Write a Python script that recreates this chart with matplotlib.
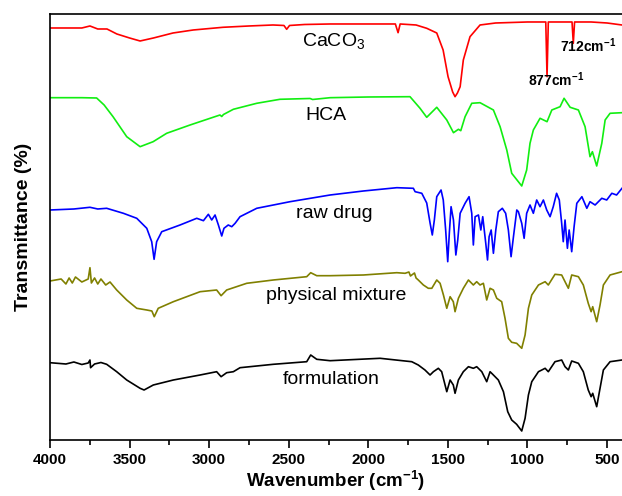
import numpy as np
import matplotlib
matplotlib.use('Agg')
import matplotlib.pyplot as plt
from matplotlib.ticker import MultipleLocator

plt.rcParams['font.family'] = ['Liberation Sans', 'DejaVu Sans']
plt.rcParams['mathtext.fontset'] = 'custom'
plt.rcParams['mathtext.rm'] = 'Liberation Sans'
plt.rcParams['mathtext.bf'] = 'Liberation Sans:bold'

# FTIR spectra (wavenumber in cm-1, transmittance in offset units)
caco3_wn = [4000, 3800, 3749, 3700, 3642, 3580, 3500, 3434, 3350, 3227, 3100, 2913, 2750, 2599,
            2530, 2513, 2495, 2400, 2240, 2000, 1830, 1813, 1800, 1700, 1633, 1570, 1530, 1499,
            1470, 1455, 1440, 1423, 1403, 1361, 1298, 1200, 1000, 900, 885, 877, 869, 750, 720,
            712, 704, 600, 500, 406]
caco3_t = [412, 412, 414, 411, 411, 406, 402, 399, 402, 407, 410, 412.7, 414, 415,
           414.5, 410.7, 414.5, 415.5, 416, 416, 416, 407.3, 416, 415, 411.7, 407, 390, 363.3,
           348, 343.3, 347, 353.3, 380, 403.3, 415, 417, 418, 418, 418, 363.3, 418, 418, 418,
           396.7, 418, 418, 417, 415]

hca_wn = [4000, 3800, 3707, 3660, 3604, 3518, 3434, 3352, 3267, 3120, 2932, 2921, 2910, 2848,
          2701, 2555, 2366, 2350, 2240, 2000, 1738, 1675, 1633, 1570, 1507, 1465, 1434, 1419,
          1392, 1350, 1298, 1214, 1172, 1130, 1099, 1036, 1005, 984, 963, 921, 877, 847, 795,
          770, 732, 680, 638, 607, 592, 565, 533, 512, 481, 406]
hca_t = [342.3, 342.3, 342, 335, 323.3, 303.3, 293.3, 298.3, 306.7, 315, 325, 323.5, 325.5, 330.7,
         336.7, 340.7, 341.5, 340.5, 342.3, 343, 343.3, 331.7, 322.7, 332.7, 320, 307.3, 310.7, 309.3,
         323.3, 336.7, 337.3, 330, 313.3, 290, 266.7, 254, 270, 296.7, 310, 321.7, 318.3, 330, 333.3,
         341.7, 332.7, 330, 313.3, 283.3, 288.3, 274, 296.7, 320, 326.7, 327.3]

drug_wn = [4000, 3850, 3749, 3700, 3644, 3539, 3455, 3392, 3361, 3346, 3330, 3298, 3183, 3078,
           3036, 3005, 2984, 2963, 2942, 2921, 2907, 2880, 2858, 2837, 2806, 2701, 2492, 2240,
           2031, 1821, 1717, 1706, 1664, 1633, 1612, 1598, 1585, 1570, 1543, 1529, 1514, 1501,
           1491, 1480, 1465, 1450, 1438, 1423, 1392, 1367, 1350, 1340, 1329, 1308, 1293, 1281,
           1262, 1251, 1241, 1228, 1214, 1199, 1183, 1158, 1137, 1120, 1103, 1088, 1067, 1057,
           1036, 1021, 1005, 984, 963, 942, 921, 900, 879, 858, 838, 817, 800, 785, 775, 764,
           749, 738, 722, 707, 690, 658, 627, 607, 575, 533, 502, 470, 440, 406]
drug_t = [230, 231, 232.7, 231, 231.7, 226.7, 221.7, 211.7, 198.3, 180.7, 198.3, 208.3, 215, 221.7,
          219.3, 225.7, 220, 225, 215, 204, 211.7, 215, 213.3, 216.7, 223.3, 231.7, 238.3, 245,
          249, 252.3, 251.7, 248.3, 246.7, 237, 217, 205, 220, 243.3, 250, 240, 210, 178.3,
          206.7, 233.3, 220, 185, 200, 226.7, 236.7, 243.3, 226.7, 195, 223.3, 225, 210, 223.3,
          196.7, 180, 203.3, 210, 186.7, 210, 228.3, 231.7, 226.7, 210, 183.3, 203.3, 230, 228.3,
          216.7, 201.7, 226.7, 235, 226.7, 240, 233.3, 240, 230, 223.3, 233.3, 246.7, 240, 216.7, 198.3, 220,
          191.7, 210, 188.3, 213.3, 236.7, 243.3, 231.7, 238.3, 235, 241.7, 240, 246.7, 245, 251.7]

mix_wn = [4000, 3930, 3900, 3880, 3860, 3840, 3800, 3760, 3749, 3740, 3720, 3700, 3680, 3650,
          3623, 3581, 3518, 3455, 3392, 3360, 3345, 3320, 3225, 3057, 2953, 2925, 2890, 2764,
          2597, 2387, 2362, 2324, 2240, 2031, 1821, 1769, 1745, 1735, 1727, 1710, 1700, 1686,
          1654, 1623, 1601, 1570, 1549, 1528, 1507, 1486, 1466, 1455, 1434, 1403, 1371, 1340,
          1319, 1298, 1277, 1256, 1235, 1214, 1193, 1162, 1141, 1120, 1099, 1068, 1036, 1015,
          994, 973, 931, 889, 869, 827, 785, 764, 743, 722, 680, 649, 618, 600, 590, 565, 544,
          523, 481, 406]
mix_t = [159, 161, 156, 162, 157, 163, 158, 161, 172.3, 157, 162, 156, 161, 155,
         158, 150, 140, 131.7, 130, 129, 123.3, 131.7, 138.3, 148.3, 150, 144.3, 150, 156.7,
         160, 163.3, 167.3, 164.3, 164.3, 165, 167.3, 166.7, 168, 164, 165, 167, 162, 160,
         155, 151.7, 151.7, 160, 156.7, 145, 131.7, 143.3, 138.3, 128.3, 141.7, 151.7, 160, 155,
         158.3, 155, 156.7, 140, 151.7, 150, 141.7, 138.3, 121.7, 101.7, 97.7, 96.7, 91.7, 105,
         131.7, 145, 155, 158.3, 155, 165.7, 165, 158.3, 151.7, 165, 163.3, 155, 136.7, 128.3, 133.3, 118.3, 135,
         155, 165, 168.3]

form_wn = [4000, 3900, 3850, 3800, 3760, 3749, 3745, 3720, 3680, 3644, 3581, 3518, 3434, 3409,
           3351, 3225, 3057, 2953, 2925, 2890, 2848, 2806, 2597, 2387, 2362, 2324, 2240, 1926,
           1769, 1727, 1686, 1644, 1612, 1591, 1560, 1539, 1507, 1486, 1466, 1455, 1434, 1403,
           1371, 1340, 1319, 1287, 1256, 1235, 1214, 1183, 1151, 1124, 1099, 1068, 1036, 1015,
           994, 973, 931, 889, 869, 827, 785, 764, 743, 722, 680, 649, 618, 600, 590, 565, 544,
           523, 481, 406]
form_t = [77.3, 76, 78, 75.5, 77, 80, 72.3, 76, 77.5, 75.7, 68.3, 60, 51.7, 50,
          55, 60, 65, 68.3, 63.3, 67.3, 68.3, 72.3, 75.7, 78.3, 85, 80.7, 79.3, 81.7,
          79, 78.3, 75, 70, 65, 68.3, 71.7, 68.3, 48.3, 60, 55, 46.7, 60, 68.3,
          73.3, 71.7, 73.3, 68.3, 58.3, 68.3, 65, 60, 48.3, 28.3, 20, 15.7, 9, 21.7,
          45, 58.3, 68.3, 71.7, 68.3, 78.3, 80, 73.3, 70, 79, 76.7, 68.3, 50, 43.3, 46.7, 33.3, 51.7,
          70, 78.3, 80]

fig = plt.figure(figsize=(6.22, 4.96), dpi=100)
ax = fig.add_axes([0.0804, 0.1129, 0.9196, 0.8589])

ax.plot(caco3_wn, caco3_t, color='#ff0000', lw=1.2)
ax.plot(hca_wn, hca_t, color='#11ee11', lw=1.2)
ax.plot(drug_wn, drug_t, color='#0000ff', lw=1.2)
ax.plot(mix_wn, mix_t, color='#808000', lw=1.2)
ax.plot(form_wn, form_t, color='#000000', lw=1.2)

ax.text(2419, 393.3, 'CaCO$_3$', fontsize=14)
ax.text(2398, 320, 'HCA', fontsize=14)
ax.text(2454, 221.7, 'raw drug', fontsize=14)
ax.text(2643, 140, 'physical mixture', fontsize=14)
ax.text(2538, 55.7, 'formulation', fontsize=14)
ax.text(795, 388.3, r'712cm$^{\mathbf{-1}}$', fontsize=10, fontweight='bold')
ax.text(996, 354, r'877cm$^{\mathbf{-1}}$', fontsize=10, fontweight='bold')

ax.set_xlim(4000, 406)
ax.set_ylim(0, 426)
ax.xaxis.set_major_locator(MultipleLocator(500))
ax.xaxis.set_minor_locator(MultipleLocator(250))
ax.tick_params(axis='x', which='major', direction='out', length=6, width=1.2, labelsize=11)
ax.tick_params(axis='x', which='minor', direction='out', length=3.5, width=1.2)
ax.set_yticks([])
for lbl in ax.get_xticklabels():
    lbl.set_fontweight('bold')
for s in ['left', 'bottom', 'top']:
    ax.spines[s].set_linewidth(1.2)
ax.spines['right'].set_visible(False)

ax.set_xlabel(r'Wavenumber (cm$^{\mathbf{-1}}$)', fontsize=13.5, fontweight='bold', labelpad=1)
ax.set_ylabel('Transmittance (%)', fontsize=14, fontweight='bold', labelpad=13)

fig.savefig('out.png', dpi=100)
